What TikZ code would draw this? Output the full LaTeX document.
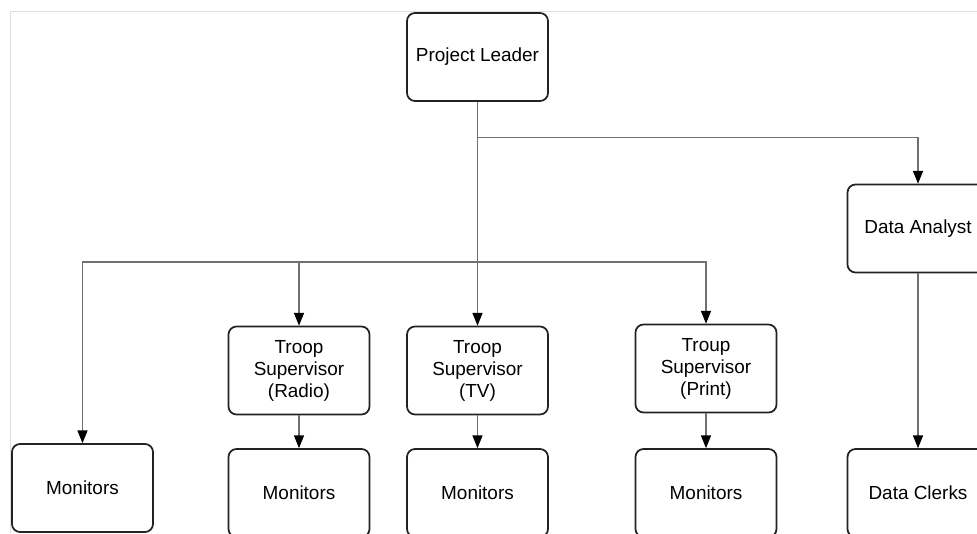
\documentclass[tikz,border=0pt]{standalone}
\usepackage{fontspec}
\setmainfont{Liberation Sans}
\usetikzlibrary{arrows.meta}

\begin{document}
\begin{tikzpicture}[x=0.75pt,y=0.75pt,yscale=-1,xscale=1,
    post/.style={draw={rgb,255:red,34;green,34;blue,34},line width=1.3pt,rounded corners=6pt,
        fill=white,minimum width=105.75pt,minimum height=66pt,align=center,inner sep=0pt,
        font=\fontsize{14.2}{16.5}\selectfont},
    link/.style={draw={rgb,255:red,112;green,112;blue,112},line width=0.85pt,
        -{Triangle[length=9.5pt,width=7.5pt,color=black]}}]
    \useasboundingbox (0,0) rectangle (977,533);
    \clip (0,0) rectangle (977,533);

    %Page border
    \draw [color={rgb,255:red,222;green,222;blue,222},line width=0.9pt] (10.5,533) -- (10.5,11.5) -- (977,11.5) ;

    % Boxes
    \node [post] (lead) at (477.5,57) {Project Leader};
    \node [post] (analyst) at (918,228.5) {Data Analyst};
    \node [post] (mon) at (82.5,488) {Monitors};
    \node [post] (radio) at (299,370.5) {Troop\\Supervisor\\(Radio)};
    \node [post] (tv) at (477.5,370.5) {Troop\\Supervisor\\(TV)};
    \node [post] (print) at (706,368.5) {Troup\\Supervisor\\(Print)};
    \node [post] (monradio) at (299,493) {Monitors};
    \node [post] (montv) at (477.5,493) {Monitors};
    \node [post] (monprint) at (706,493) {Monitors};
    \node [post] (clerks) at (918,493) {Data Clerks};

    % Branch points
    \coordinate (fork) at (477.5,137.5);
    \coordinate (split) at (477.5,262);

    % Connectors
    \draw [link] (lead) -- (tv);
    \draw [link] (fork) -| (analyst);
    \draw [link] (split) -| (mon);
    \draw [link] (split) -| (radio);
    \draw [link] (split) -| (print);
    \draw [link] (radio) -- (monradio);
    \draw [link] (tv) -- (montv);
    \draw [link] (print) -- (monprint);
    \draw [link] (analyst) -- (clerks);

\end{tikzpicture}
\end{document}
